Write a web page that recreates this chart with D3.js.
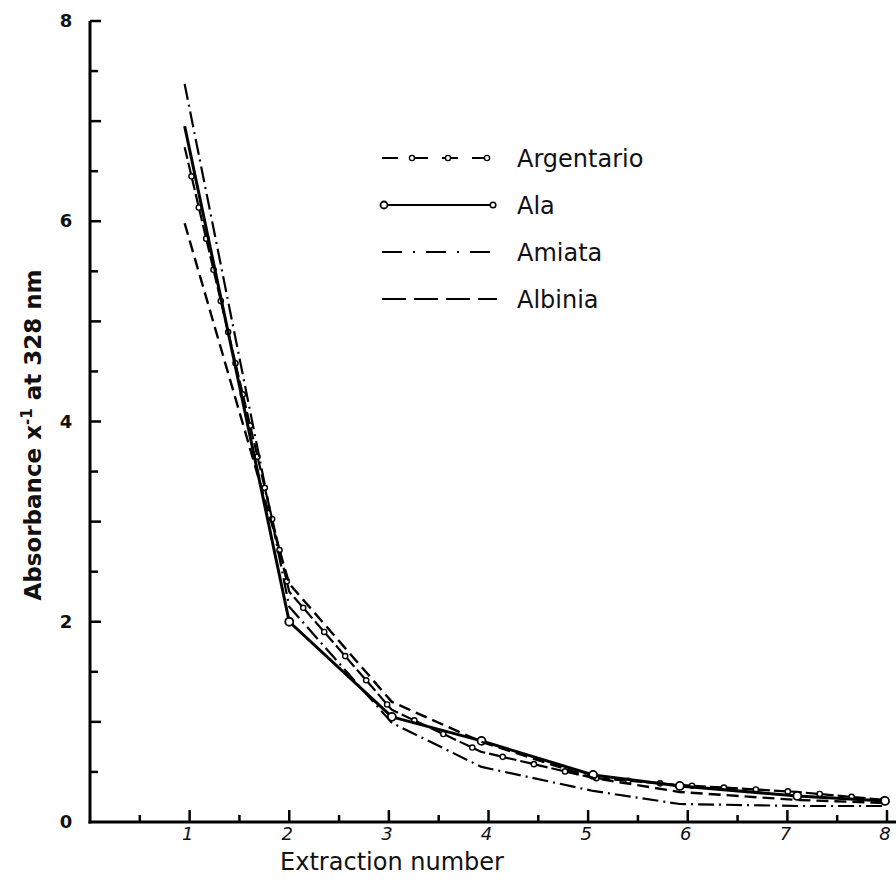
<!DOCTYPE html>
<meta charset="utf-8">
<style>
	body { margin: 0; background: #fff; }
	svg { display: block; }
	.tick-label { font-family: "DejaVu Sans", sans-serif; font-size: 18px; fill: #111; }
	.axis-title { font-family: "DejaVu Sans", sans-serif; fill: #111; }
	.legend-text { font-family: "DejaVu Sans", sans-serif; font-size: 24px; fill: #111; }
</style>
<body>
<svg id="chart" width="896" height="881"></svg>
<script src="https://cdn.jsdelivr.net/npm/d3@7"></script>
<script>
	// extraction positions as drawn, and absorbance per sample
	var extraction = [0.95, 2, 3.03, 3.93, 5.05, 5.92, 7.1, 7.98];
	var ala        = [6.95, 2.00, 1.05, 0.81, 0.47, 0.36, 0.26, 0.21];
	var argentario = [6.74, 2.30, 1.12, 0.70, 0.44, 0.37, 0.30, 0.22];
	var amiata     = [7.37, 2.15, 0.99, 0.55, 0.31, 0.18, 0.16, 0.16];
	var albinia    = [5.98, 2.38, 1.20, 0.80, 0.44, 0.30, 0.22, 0.19];

	var xTickLabels = [1, 2, 3, 4, 5, 6, 7, 8];
	var yTickLabels = [0, 2, 4, 6, 8];
	var seriesNames = ["Argentario", "Ala", "Amiata", "Albinia"];

	var svg = d3.select("#chart");
	var x = d3.scaleLinear().domain([0, 8]).range([90, 887]);
	var y = d3.scaleLinear().domain([0, 8]).range([822, 21]);

	// axes (hand drawn look: ticks pointing inward)
	svg.append("line").attr("x1", x(0)).attr("x2", x(0)).attr("y1", y(0) + 1.5).attr("y2", y(8))
		.attr("stroke", "#000").attr("stroke-width", 3);
	svg.append("line").attr("x1", x(0) - 1.5).attr("x2", 896).attr("y1", y(0)).attr("y2", y(0))
		.attr("stroke", "#000").attr("stroke-width", 3);

	var halfSteps = d3.range(1, 17).map(function(d) { return d / 2; });
	svg.selectAll(".ytick").data(halfSteps).enter().append("line")
		.attr("x1", x(0)).attr("x2", function(d) { return x(0) + (d % 1 === 0 ? 11 : 8); })
		.attr("y1", function(d) { return y(d); }).attr("y2", function(d) { return y(d); })
		.attr("stroke", "#000").attr("stroke-width", 2.5);
	svg.selectAll(".xtick").data(halfSteps).enter().append("line")
		.attr("x1", function(d) { return x(d); }).attr("x2", function(d) { return x(d); })
		.attr("y1", y(0)).attr("y2", function(d) { return y(0) - (d % 1 === 0 ? 12 : 7); })
		.attr("stroke", "#000").attr("stroke-width", 2.5);

	svg.selectAll(".ylab").data(yTickLabels).enter().append("text")
		.attr("class", "tick-label")
		.attr("x", 66).attr("y", function(d) { return y(d) + 6; })
		.attr("text-anchor", "middle").attr("font-weight", "bold")
		.text(function(d) { return d; });
	svg.selectAll(".xlab").data(xTickLabels).enter().append("text")
		.attr("class", "tick-label")
		.attr("x", function(d) { return x(d) - 2; }).attr("y", 840)
		.attr("text-anchor", "middle").attr("font-style", "italic")
		.text(function(d) { return d; });

	svg.append("text").attr("class", "axis-title")
		.attr("x", 392).attr("y", 870).attr("text-anchor", "middle")
		.attr("font-size", 24)
		.text("Extraction number");

	var yt = svg.append("text").attr("class", "axis-title")
		.attr("transform", "translate(41,435) rotate(-90)")
		.attr("text-anchor", "middle").attr("font-size", 23).attr("font-weight", "bold");
	yt.append("tspan").text("Absorbance x");
	yt.append("tspan").attr("dy", -9).attr("font-size", 15).text("-1");
	yt.append("tspan").attr("dy", 9).text(" at 328 nm");

	var styles = {
		"Argentario": { data: argentario, dash: "12,4", width: 2.2, ring: "small" },
		"Ala":        { data: ala, dash: null, width: 3, ring: "points" },
		"Amiata":     { data: amiata, dash: "16,5,2,5", width: 2.2, ring: null },
		"Albinia":    { data: albinia, dash: "12,6", width: 2.4, ring: null }
	};

	var line = d3.line()
		.x(function(d) { return x(d[0]); })
		.y(function(d) { return y(d[1]); });

	seriesNames.forEach(function(name) {
		var s = styles[name];
		var pts = extraction.map(function(e, i) { return [e, s.data[i]]; });
		var p = svg.append("path").datum(pts)
			.attr("d", line).attr("fill", "none")
			.attr("stroke", "#000").attr("stroke-width", s.width)
			.attr("stroke-linejoin", "round")
			.attr("stroke-dasharray", s.dash);
		if (s.ring === "points") {
			svg.selectAll(".pt-" + name).data(pts.slice(1)).enter().append("circle")
				.attr("cx", function(d) { return x(d[0]); }).attr("cy", function(d) { return y(d[1]); })
				.attr("r", 4).attr("fill", "#fff").attr("stroke", "#000").attr("stroke-width", 1.8);
		}
		if (s.ring === "small") {
			// little rings along the line, like the pen pattern
			var node = p.node(), len = node.getTotalLength();
			var marks = d3.range(30, len, 32).map(function(l) { return node.getPointAtLength(l); });
			svg.selectAll(".rg-" + name).data(marks).enter().append("circle")
				.attr("cx", function(d) { return d.x; }).attr("cy", function(d) { return d.y; })
				.attr("r", 2.6).attr("fill", "#fff").attr("stroke", "#000").attr("stroke-width", 1.4);
		}
	});

	// legend
	var legendY = d3.scalePoint().domain(seriesNames).range([158, 299]);
	var lx0 = 382, lx1 = 497;
	seriesNames.forEach(function(name) {
		var s = styles[name], yy = legendY(name);
		var g = svg.append("g");
		if (name === "Argentario") {
			g.append("line").attr("x1", lx0).attr("x2", lx1 - 10).attr("y1", yy).attr("y2", yy)
				.attr("stroke", "#000").attr("stroke-width", 2.2).attr("stroke-dasharray", "16,14");
			g.selectAll("circle").data([412, 448, 487]).enter().append("circle")
				.attr("cx", function(d) { return d; }).attr("cy", yy).attr("r", 2.6)
				.attr("fill", "#fff").attr("stroke", "#000").attr("stroke-width", 1.4);
		} else if (name === "Ala") {
			g.append("line").attr("x1", lx0 + 4).attr("x2", lx1 - 6).attr("y1", yy).attr("y2", yy)
				.attr("stroke", "#000").attr("stroke-width", 2);
			g.append("circle").attr("cx", lx0 + 2).attr("cy", yy).attr("r", 3.5)
				.attr("fill", "#fff").attr("stroke", "#000").attr("stroke-width", 1.8);
			g.append("circle").attr("cx", lx1 - 4).attr("cy", yy).attr("r", 2.8)
				.attr("fill", "#fff").attr("stroke", "#000").attr("stroke-width", 1.5);
		} else if (name === "Amiata") {
			g.append("line").attr("x1", lx0).attr("x2", lx1).attr("y1", yy).attr("y2", yy)
				.attr("stroke", "#000").attr("stroke-width", 2.2).attr("stroke-dasharray", "20,11,2,11");
		} else {
			g.append("line").attr("x1", lx0).attr("x2", lx1).attr("y1", yy).attr("y2", yy)
				.attr("stroke", "#000").attr("stroke-width", 2.2).attr("stroke-dasharray", "24,8");
		}
		g.append("text").attr("class", "legend-text")
			.attr("x", 517).attr("y", yy + 9).text(name);
	});
</script>
</body>
